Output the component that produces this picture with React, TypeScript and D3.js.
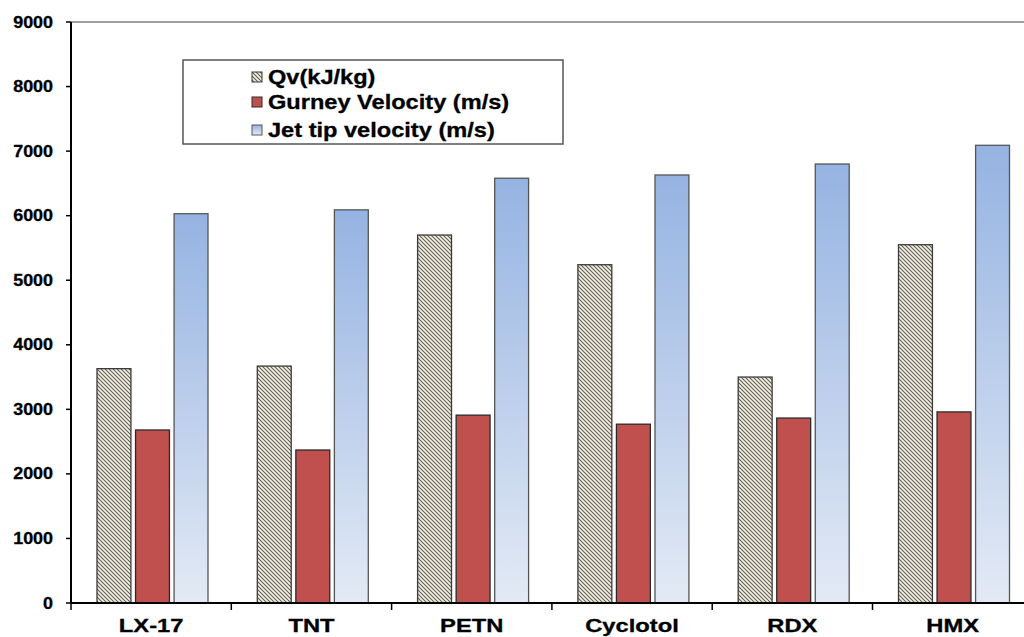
import React from 'react';
import * as d3 from 'd3';

// chart data
const categories = ['LX-17', 'TNT', 'PETN', 'Cyclotol', 'RDX', 'HMX'];
const series = ['Qv(kJ/kg)', 'Gurney Velocity (m/s)', 'Jet tip velocity (m/s)'];
const qv = [3630, 3670, 5700, 5240, 3500, 5550];
const gurney = [2680, 2370, 2910, 2770, 2865, 2960];
const jetTip = [6030, 6090, 6580, 6630, 6800, 7090];
const yTicks = [0, 1000, 2000, 3000, 4000, 5000, 6000, 7000, 8000, 9000];

const W = 1024;
const H = 637;
const left = 71;
const top = 22;
const bottom = 603;
const bandW = 160.3;
const font = '"Liberation Sans", Arial, sans-serif';

// the source picture is stretched sideways, so text gets a horizontal scale
function Label({ x, y, size, sx, anchor, children }: any) {
  return (
    <text
      transform={`translate(${x},${y}) scale(${sx},1)`}
      dy="0.35em"
      textAnchor={anchor}
      fontFamily={font}
      fontWeight="bold"
      fontSize={size}
      fill="#000"
      stroke="#000"
      strokeWidth={0.3}
    >
      {children}
    </text>
  );
}

function App() {
  const x = d3
    .scaleBand()
    .domain(categories)
    .range([left, left + bandW * categories.length])
    .paddingInner(0)
    .paddingOuter(0);
  const inner = d3.scaleBand().domain(series).range([26, 137]).paddingInner(0.12);
  const y = d3.scaleLinear().domain([0, 9000]).range([bottom, top]);

  const values = [qv, gurney, jetTip];
  const fills = ['url(#hatch)', '#c0504d', 'url(#jetGrad)'];
  const strokes = ['#3a3a3a', '#2a2a2a', '#555'];

  const legendRows = [77, 102, 130];

  return (
    <svg width={W} height={H} style={{ position: 'absolute', left: 0, top: 0, background: '#fff' }}>
      <defs>
        <pattern id="hatch" patternUnits="userSpaceOnUse" width="4" height="4">
          <rect width="4" height="4" fill="#f7f3cf" />
          <path d="M-1,-1 L5,5 M3,-1 L5,1 M-1,3 L1,5" stroke="#5c5c78" strokeWidth="1.1" />
        </pattern>
        <linearGradient id="jetGrad" x1="0" y1="0" x2="0" y2="1">
          <stop offset="0%" stopColor="#95b3e2" />
          <stop offset="100%" stopColor="#e3eaf5" />
        </linearGradient>
      </defs>

      {/* top border line */}
      <line x1={left} x2={W} y1={y(9000)} y2={y(9000)} stroke="#7f7f7f" strokeWidth={1.5} />

      {/* bars */}
      {categories.map((c, i) => (
        <g key={c}>
          {series.map((s, k) => {
            const v = values[k][i];
            return (
              <rect
                key={s}
                x={(x(c) as number) + (inner(s) as number)}
                y={y(v)}
                width={inner.bandwidth()}
                height={bottom - y(v)}
                fill={fills[k]}
                stroke={strokes[k]}
                strokeWidth={1.3}
              />
            );
          })}
        </g>
      ))}

      {/* y axis */}
      <line x1={left} x2={left} y1={top} y2={bottom} stroke="#000" strokeWidth={2} />
      {yTicks.map((t) => (
        <g key={t}>
          <line x1={left - 5} x2={left} y1={y(t)} y2={y(t)} stroke="#000" strokeWidth={1.5} />
          <Label x={53} y={y(t)} size={16} sx={1.12} anchor="end">
            {t}
          </Label>
        </g>
      ))}

      {/* x axis */}
      <line x1={left} x2={W} y1={bottom} y2={bottom} stroke="#000" strokeWidth={2} />
      <line x1={left} x2={left} y1={bottom} y2={bottom + 7} stroke="#000" strokeWidth={1.5} />
      {categories.map((c) => (
        <line
          key={c + 't'}
          x1={(x(c) as number) + bandW}
          x2={(x(c) as number) + bandW}
          y1={bottom}
          y2={bottom + 7}
          stroke="#000"
          strokeWidth={1.5}
        />
      ))}
      {categories.map((c) => (
        <Label key={c + 'l'} x={(x(c) as number) + bandW / 2} y={625.5} size={18} sx={1.32} anchor="middle">
          {c}
        </Label>
      ))}

      {/* legend */}
      <rect x={183} y={60} width={380} height={84} fill="#fff" stroke="#555" strokeWidth={1.5} />
      {series.map((s, k) => (
        <g key={s + 'lg'}>
          <rect
            x={252}
            y={legendRows[k] - 5}
            width={10}
            height={10}
            fill={fills[k]}
            stroke={strokes[k]}
            strokeWidth={1}
          />
          <Label x={268} y={legendRows[k]} size={20} sx={1.18} anchor="start">
            {s}
          </Label>
        </g>
      ))}
    </svg>
  );
}

export default App;
